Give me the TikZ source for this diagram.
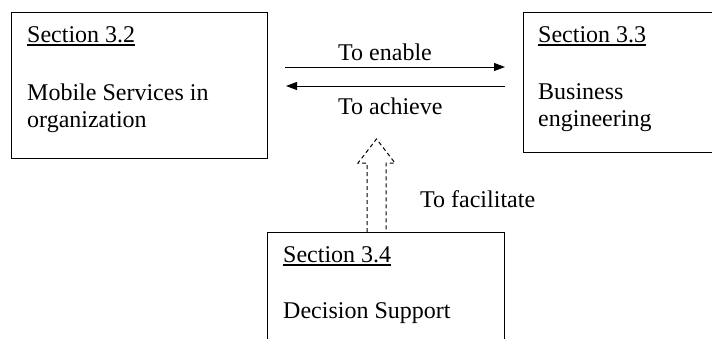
\documentclass[tikz,border=0pt]{standalone}
\usepackage{fontspec}
\setmainfont{Liberation Serif}
\usetikzlibrary{arrows.meta}

% underlined heading with a thicker rule
\newcommand\headline[1]{\setbox0\hbox{#1}\rlap{\rule[-3.5pt]{\wd0}{1.6pt}}\box0}

\tikzset{
  section/.style={draw=none, minimum width=#1, inner sep=0pt, outer sep=0pt},
  frame/.style={line width=1pt, black},
  label/.style={anchor=base west, inner sep=0pt, font=\fontsize{24}{28}\selectfont},
  flow/.style={line width=1pt, -{Triangle[length=11pt,width=8pt]}},
  support/.style={line width=1pt, dash pattern=on 4pt off 3pt},
}

\begin{document}
\begin{tikzpicture}[x=1pt,y=-1pt]
  \useasboundingbox (0,0) rectangle (712,338);
  \clip (0,0) rectangle (712,338);

  % section boxes
  \node[section=256pt, minimum height=146pt] (s32) at (139,85) {};
  \node[section=237pt, minimum height=140pt] (s33) at (641.5,82) {};
  \node[section=237pt, minimum height=148pt] (s34) at (385.5,306) {};

  \draw[frame] (s32.south west) rectangle (s32.north east);
  \draw[frame] (s33.north east) -- (s33.north west) -- (s33.south west) -- (s33.south east);
  \draw[frame] (s34.south west) -- (s34.north west) -- (s34.north east) -- (s34.south east);

  % box texts
  \node[label] (t32a) at (27,42) {\headline{Section 3.2}};
  \node[label] (t32b) at (27,100) {Mobile Services in};
  \node[label] (t32c) at (27,127) {organization};

  \node[label] (t33a) at (538,42) {\headline{Section 3.3}};
  \node[label] (t33b) at (538,99) {Business};
  \node[label] (t33c) at (538,126) {engineering};

  \node[label] (t34a) at (283,262) {\headline{Section 3.4}};
  \node[label] (t34b) at (283,318) {Decision Support};

  % horizontal relations
  \coordinate (enA) at (285,67);
  \coordinate (enB) at (505,67);
  \coordinate (acA) at (505,86);
  \coordinate (acB) at (286,86);
  \draw[flow] (enA) -- (enB);
  \draw[flow] (acA) -- (acB);
  \node[label] (enable) at (338,60) {To enable};
  \node[label] (achieve) at (338,114) {To achieve};

  % dashed block arrow rising from Section 3.4
  \coordinate (tip) at (376.5,139);
  \draw[support] ([xshift=-9.5pt]s34.north -| tip) -- ++(0,-69) -- ++(-9,0)
     -- (tip) -- ++(18.5,24) -- ++(-9,0) -- ([xshift=9.5pt]s34.north -| tip);
  \node[label] (facilitate) at (420,207) {To facilitate};
\end{tikzpicture}
\end{document}
